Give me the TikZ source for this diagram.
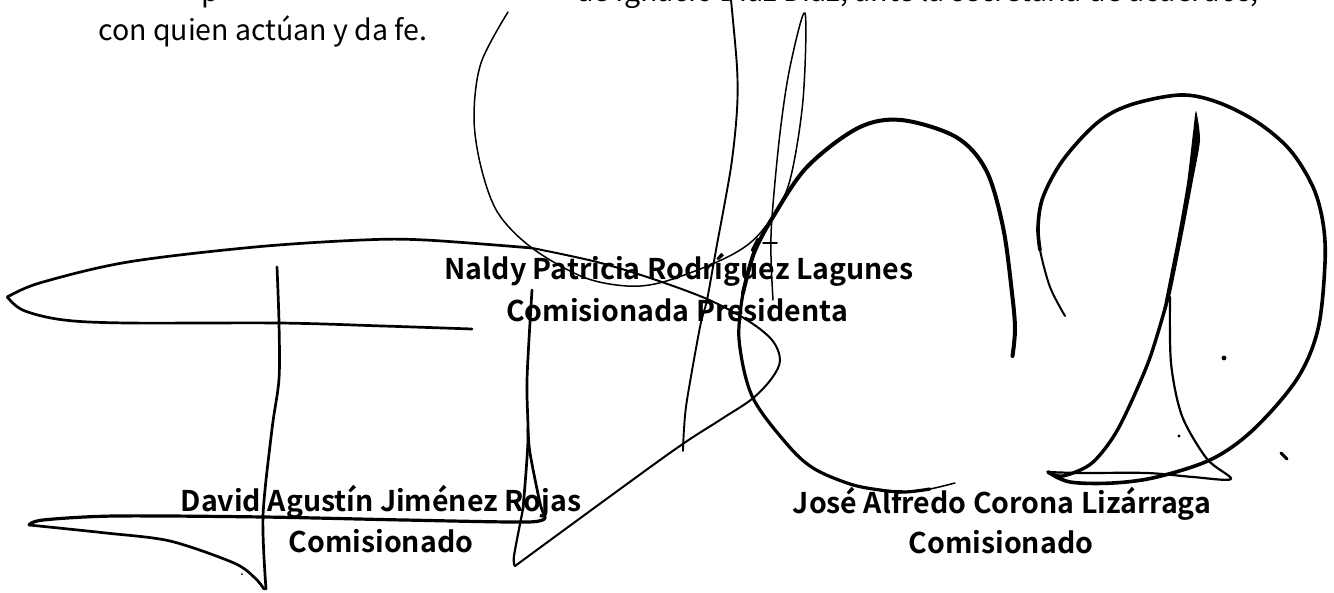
\documentclass[tikz,border=0pt]{standalone}
\usepackage{fontspec}
\newfontfamily\bodyfont{Noto Sans CJK SC}
\newfontfamily\boldfont{Noto Sans CJK SC Bold}
\begin{document}
\begin{tikzpicture}[x=1pt,y=-1pt,
 hairink/.style={line width=1.5pt,line cap=round,line join=round,black},
 ink/.style={line width=2.7pt,line cap=round,line join=round,black},
 thickink/.style={line width=4pt,line cap=round,line join=round,black},
 bodytxt/.style={inner sep=0pt,anchor=base west,font=\bodyfont\fontsize{28.5}{32}\selectfont},
 signame/.style={inner sep=0pt,anchor=base,font=\boldfont\fontsize{28.5}{32}\selectfont}]
\useasboundingbox (0,0) rectangle (1334,592);
% texts
\node[bodytxt,anchor=base east] (cut) at (1259,1.5) {de Ignacio Díaz Díaz, ante la secretaria de acuerdos,};
\node[bodytxt] (cutp) at (201,1.5) {p};
\node[bodytxt] (body) at (98,40.5) {con quien actúan y da fe.};
\node[signame] (n1) at (679,279.5) {Naldy Patricia Rodríguez Lagunes};
\node[signame] (n2) at (677,321) {Comisionada Presidenta};
\node[signame] (d1) at (381,511.5) {David Agustín Jiménez Rojas};
\node[signame] (d2) at (381,552) {Comisionado};
\node[signame] (j1) at (1002,513) {José Alfredo Corona Lizárraga};
\node[signame] (j2) at (1001,553) {Comisionado};
% long stroke of the left signature
\draw[ink] plot[smooth,tension=0.55] coordinates {(472,329) (383,326) (279,323) (128,323) (64,320) (25,311) (9,299) (11,295) (43,282) (128,262) (255,247) (362,240) (425,240) (532,248)};
\draw[ink,line width=2pt] plot[smooth,tension=0.55] coordinates {(532,248) (597,262) (653,279) (707,299) (747,320) (772,340) (780,360) (772,378) (752,399) (720,420) (667,455) (515,566)};
\draw[ink,line width=2.2pt] plot[smooth,tension=0.5] coordinates {(515,566) (514,556) (523,509)};
\draw[ink] plot[smooth,tension=0.5] coordinates {(523,509) (528,440) (527,380) (532,290)};
% vertical of the left signature
\draw[ink] plot[smooth,tension=0.5] coordinates {(277,267) (279,323) (279,379) (272,429) (263,516) (266,589)};
% David horizontal stroke
\draw[ink,line width=3.2pt] plot[smooth,tension=0.5] coordinates {(29,525) (43,520) (115,516) (264,517) (404,520) (528,522) (545,517)};
\draw[ink] plot[smooth,tension=0.5] coordinates {(545,517) (540,503) (530,453) (528,429)};
\draw[ink] plot[smooth,tension=0.5] coordinates {(29,525) (106,533) (170,541) (234,563) (255,578) (264,589)};
% large thin circle
\draw[hairink] plot[smooth,tension=0.55] coordinates {(508,12) (481,63) (474,117) (481,167) (498,213) (532,248) (583,277) (627,286) (663,282) (717,262) (750,243) (772,217) (790,180) (803,100) (805,13) (790,67) (780,133) (772,217) (771,257) (773,300)};
\draw[hairink,line width=1.9pt] plot[smooth,tension=0.5] coordinates {(731,0) (737,67) (737,110) (731,167) (716,250) (707,300) (700,327) (687,400) (684,429) (683,451)};
\draw[hairink] (763,243) -- (777,243);
\draw[thickink] (753,250) -- (758,240);
% centre arc
\draw[ink,line width=3.2pt] plot[smooth,tension=0.55] coordinates {(743,293) (739,339) (752,396) (786,443) (813,468) (850,484) (880,490) (905,492) (930,489)};
\draw[hairink] plot[smooth,tension=0.5] coordinates {(905,492) (930,489) (955,483)};
\draw[thickink] plot[smooth,tension=0.55] coordinates {(1012.5,356) (1015,329) (1012,293) (1003,227) (986,170) (956,137) (901,120) (858,128) (807,167) (773,217) (754,253) (743,293)};
% right signature, circle
\draw[hairink,line width=2pt] plot[smooth,tension=0.55] coordinates {(1065,316) (1050,287) (1040,250) (1038,227)};
\draw[thickink,line width=3.6pt] plot[smooth,tension=0.55] coordinates {(1040,250) (1038,227) (1043,197) (1063,160) (1097,123) (1130,105) (1180,95) (1217,102) (1257,122) (1290,150) (1313,187) (1323,223) (1325,263) (1318,329) (1297,379) (1254,429) (1212,459) (1157,477) (1113,483) (1070,482) (1048,472)};
\draw[ink,line width=2.2pt] plot[smooth,tension=0.5] coordinates {(1048,472) (1080,473) (1147,473) (1193,477) (1231,479) (1207,459) (1182,416) (1171,363) (1170,297)};
% spike, filled
\fill plot[smooth cycle,tension=0.4] coordinates {(1196,111) (1200,140) (1193,180) (1183,233) (1170,297) (1162,317) (1177,240) (1187,183) (1193,133)};
\draw[ink,line width=3.4pt] plot[smooth,tension=0.5] coordinates {(1166,305) (1148,363) (1118,429) (1092,463) (1063,476) (1048,472)};
% specks
\fill (1224,358) circle (2.4);
\fill (1179,436) circle (1.6);
\draw[ink,line width=3pt] (1281,453) -- (1287,459);
\fill (242,574) circle (1);
\end{tikzpicture}
\end{document}
